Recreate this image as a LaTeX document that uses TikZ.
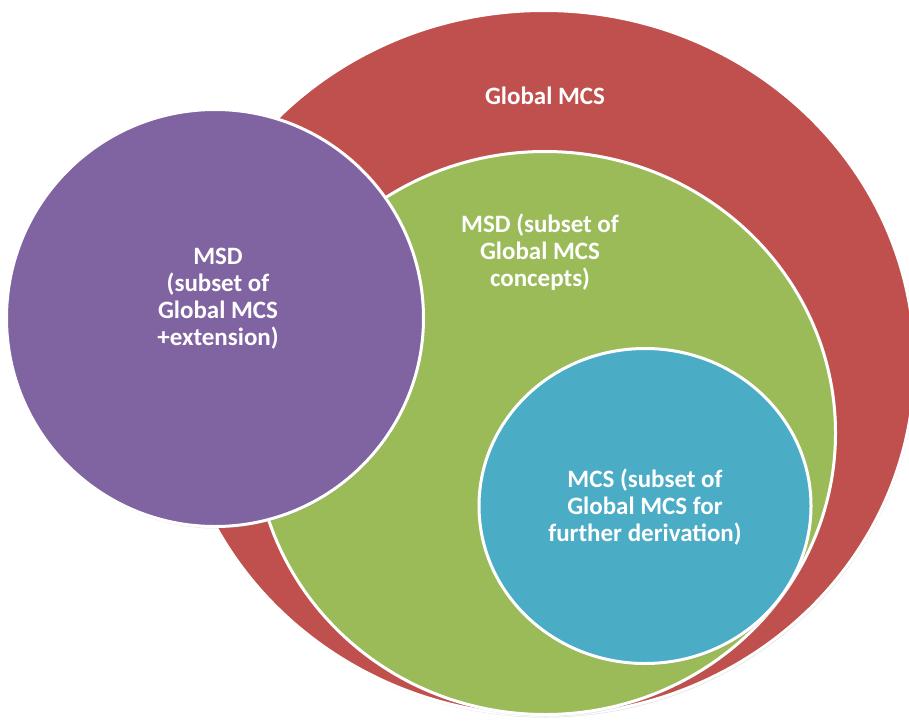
\documentclass[tikz,border=0pt]{standalone}
\usepackage{fontspec}
\setmainfont{Carlito}
\definecolor{vnred}{HTML}{C0504D}
\definecolor{vngreen}{HTML}{9BBB59}
\definecolor{vnblue}{HTML}{4BACC6}
\definecolor{vnpurple}{HTML}{8064A2}
\usetikzlibrary{shapes.geometric, shadows}
\tikzset{
	vset/.style={ellipse, draw=white, line width=3pt, inner sep=0pt,
		drop shadow={shadow xshift=1pt, shadow yshift=-2pt, opacity=0.22}},
	vlabel/.style={align=center, text=white, inner sep=0pt,
		font=\fontsize{25}{27}\selectfont\bfseries}
}

\begin{document}
\begin{tikzpicture}[x=1pt, y=-1pt]
	\fill[white] (0,0) rectangle (909,725);
	\clip (0,0) rectangle (909,725);
	% sets, back to front
	\node[vset, fill=vnred, minimum width=741pt, minimum height=705pt] (global) at (544,363) {};
	\node[vset, fill=vngreen, minimum width=581pt, minimum height=563pt] (msd) at (545,433) {};
	\node[vset, fill=vnblue, minimum width=332pt, minimum height=315pt] (mcs) at (645,506) {};
	\node[vset, fill=vnpurple, minimum width=417pt, minimum height=417pt] (ext) at (215,318) {};
	% labels
	\node[vlabel] (globallbl) at (545,96) {Global MCS};
	\node[vlabel] (msdlbl) at (540,252) {MSD (subset of\\Global MCS\\concepts)};
	\node[vlabel] (mcslbl) at (645,507) {MCS (subset of\\Global MCS for\\further derivation)};
	\node[vlabel] (extlbl) at (218,299) {MSD\\(subset of\\Global MCS\\+extension)};
\end{tikzpicture}
\end{document}
